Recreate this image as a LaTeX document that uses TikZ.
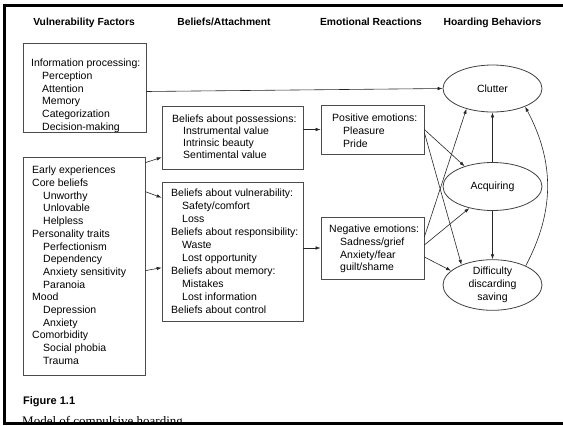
\documentclass[tikz,border=0pt]{standalone}
\usepackage{fontspec}
\setmainfont{Liberation Sans}
\newfontfamily\capfont{Liberation Serif}
\usetikzlibrary{shapes.geometric,arrows.meta}
\newcommand{\ind}{\hspace*{11pt}}
\tikzset{
	box/.style={draw=black!70, line width=0.7pt, inner sep=0pt},
	liste/.style={anchor=north west, inner sep=0pt, align=left, font=\fontsize{10.5}{12.7}\selectfont},
	oval/.style={ellipse, draw=black!75, line width=0.8pt, minimum width=99pt, minimum height=48pt, inner sep=0pt, align=center, font=\fontsize{10.5}{13}\selectfont},
	head/.style={anchor=base, font=\bfseries\fontsize{10.3}{12}\selectfont},
	pfeil/.style={->, line width=0.6pt, draw=black!85},
}
\begin{document}
\begin{tikzpicture}[x=1pt, y=-1pt, >={Latex[length=5pt,width=3.5pt]}]
			\useasboundingbox (0,0) rectangle (563,426);
			% Ueberschriften
			\node[head] (h1) at (84,25.5) {Vulnerability Factors};
			\node[head] (h2) at (224,25.5) {Beliefs/Attachment};
			\node[head] (h3) at (371,25.5) {Emotional Reactions};
			\node[head] (h4) at (492.5,25.5) {Hoarding Behaviors};
			% Kaesten
			\node[box, minimum width=123pt, minimum height=89pt] (info) at (84.5,87.5) {};
			\node[box, minimum width=122pt, minimum height=218pt] (early) at (84,266) {};
			\node[box, minimum width=141pt, minimum height=63pt] (poss) at (232.5,137.5) {};
			\node[box, minimum width=141pt, minimum height=139pt] (vuln) at (232.5,251.5) {};
			\node[box, minimum width=103pt, minimum height=49pt] (pos) at (372.5,129.5) {};
			\node[box, minimum width=103pt, minimum height=62pt] (neg) at (372.5,248) {};
			% Texte
			\node[liste] (infotxt) at (31,59) {Information processing:\\ \ind Perception\\ \ind Attention\\ \ind Memory\\ \ind Categorization\\ \ind Decision-making};
			\node[liste] (earlytxt) at (32,166) {Early experiences\\ Core beliefs\\ \ind Unworthy\\ \ind Unlovable\\ \ind Helpless\\ Personality traits\\ \ind Perfectionism\\ \ind Dependency\\ \ind Anxiety sensitivity\\ \ind Paranoia\\ Mood\\ \ind Depression\\ \ind Anxiety\\ Comorbidity\\ \ind Social phobia\\ \ind Trauma};
			\node[liste, font=\fontsize{10.5}{12}\selectfont] (posstxt) at (172,115) {Beliefs about possessions:\\ \ind Instrumental value\\ \ind Intrinsic beauty\\ \ind Sentimental value};
			\node[liste, font=\fontsize{10.5}{13}\selectfont] (vulntxt) at (171,189) {Beliefs about vulnerability:\\ \ind Safety/comfort\\ \ind Loss\\ Beliefs about responsibility:\\ \ind Waste\\ \ind Lost opportunity\\ Beliefs about memory:\\ \ind Mistakes\\ \ind Lost information\\ Beliefs about control};
			\node[liste] (postxt) at (332,114) {Positive emotions:\\ \ind Pleasure\\ \ind Pride};
			\node[liste] (negtxt) at (329,225) {Negative emotions:\\ \ind Sadness/grief\\ \ind Anxiety/fear\\ \ind guilt/shame};
			% Ellipsen
			\node[oval, minimum height=47pt] (clutter) at (492.5,88.5) {Clutter};
			\node[oval] (acq) at (492.5,186.5) {Acquiring};
			\node[oval, minimum height=50pt] (diff) at (492.5,285) {Difficulty\\discarding\\saving};
			% Pfeile
			\draw[pfeil] ([yshift=-4pt]info.east) -- (clutter.west);
			\draw[pfeil] ([yshift=-6pt]early.north east) -- ([yshift=12pt]poss.south west);
			\draw[pfeil] ([yshift=-35pt]early.north east) -- ([yshift=-16pt]vuln.north west);
			\draw[pfeil] ([yshift=-114pt]early.north east) -- ([yshift=-86pt]vuln.north west);
			\draw[pfeil] (poss.east |- pos.west) -- (pos.west);
			\draw[pfeil] (vuln.east |- neg.west) -- (neg.west);
			\draw[pfeil] (pos.east) -- (acq.144);
			\draw[pfeil] ([yshift=-3pt]pos.east) -- (diff.147);
			\draw[pfeil] ([yshift=11pt]neg.east) -- (clutter.218);
			\draw[pfeil] ([yshift=3pt]neg.east) -- (acq.223);
			\draw[pfeil] ([yshift=-9pt]neg.east) -- (diff.161);
			\draw[pfeil] (acq.north) -- (clutter.south);
			\draw[pfeil] (acq.south) -- (diff.north);
			\draw[pfeil] (diff.30) to[out=62,in=-62] (clutter.331);
			% Bildunterschrift
			\node[anchor=base west, inner sep=0pt, font=\bfseries\fontsize{11}{13}\selectfont] (fig) at (23,404) {Figure 1.1};
			\begin{scope}
				\clip (0,0) rectangle (563,421.5);
				\node[anchor=base west, inner sep=0pt, font=\capfont\fontsize{13}{15}\selectfont] (cap) at (22,425) {Model of compulsive hoarding.};
			\end{scope}
			% Rahmen
			\draw[line width=3pt] (563,5) -- (4.5,5) -- (4.5,423) -- (563,423);
		\end{tikzpicture}
\end{document}
